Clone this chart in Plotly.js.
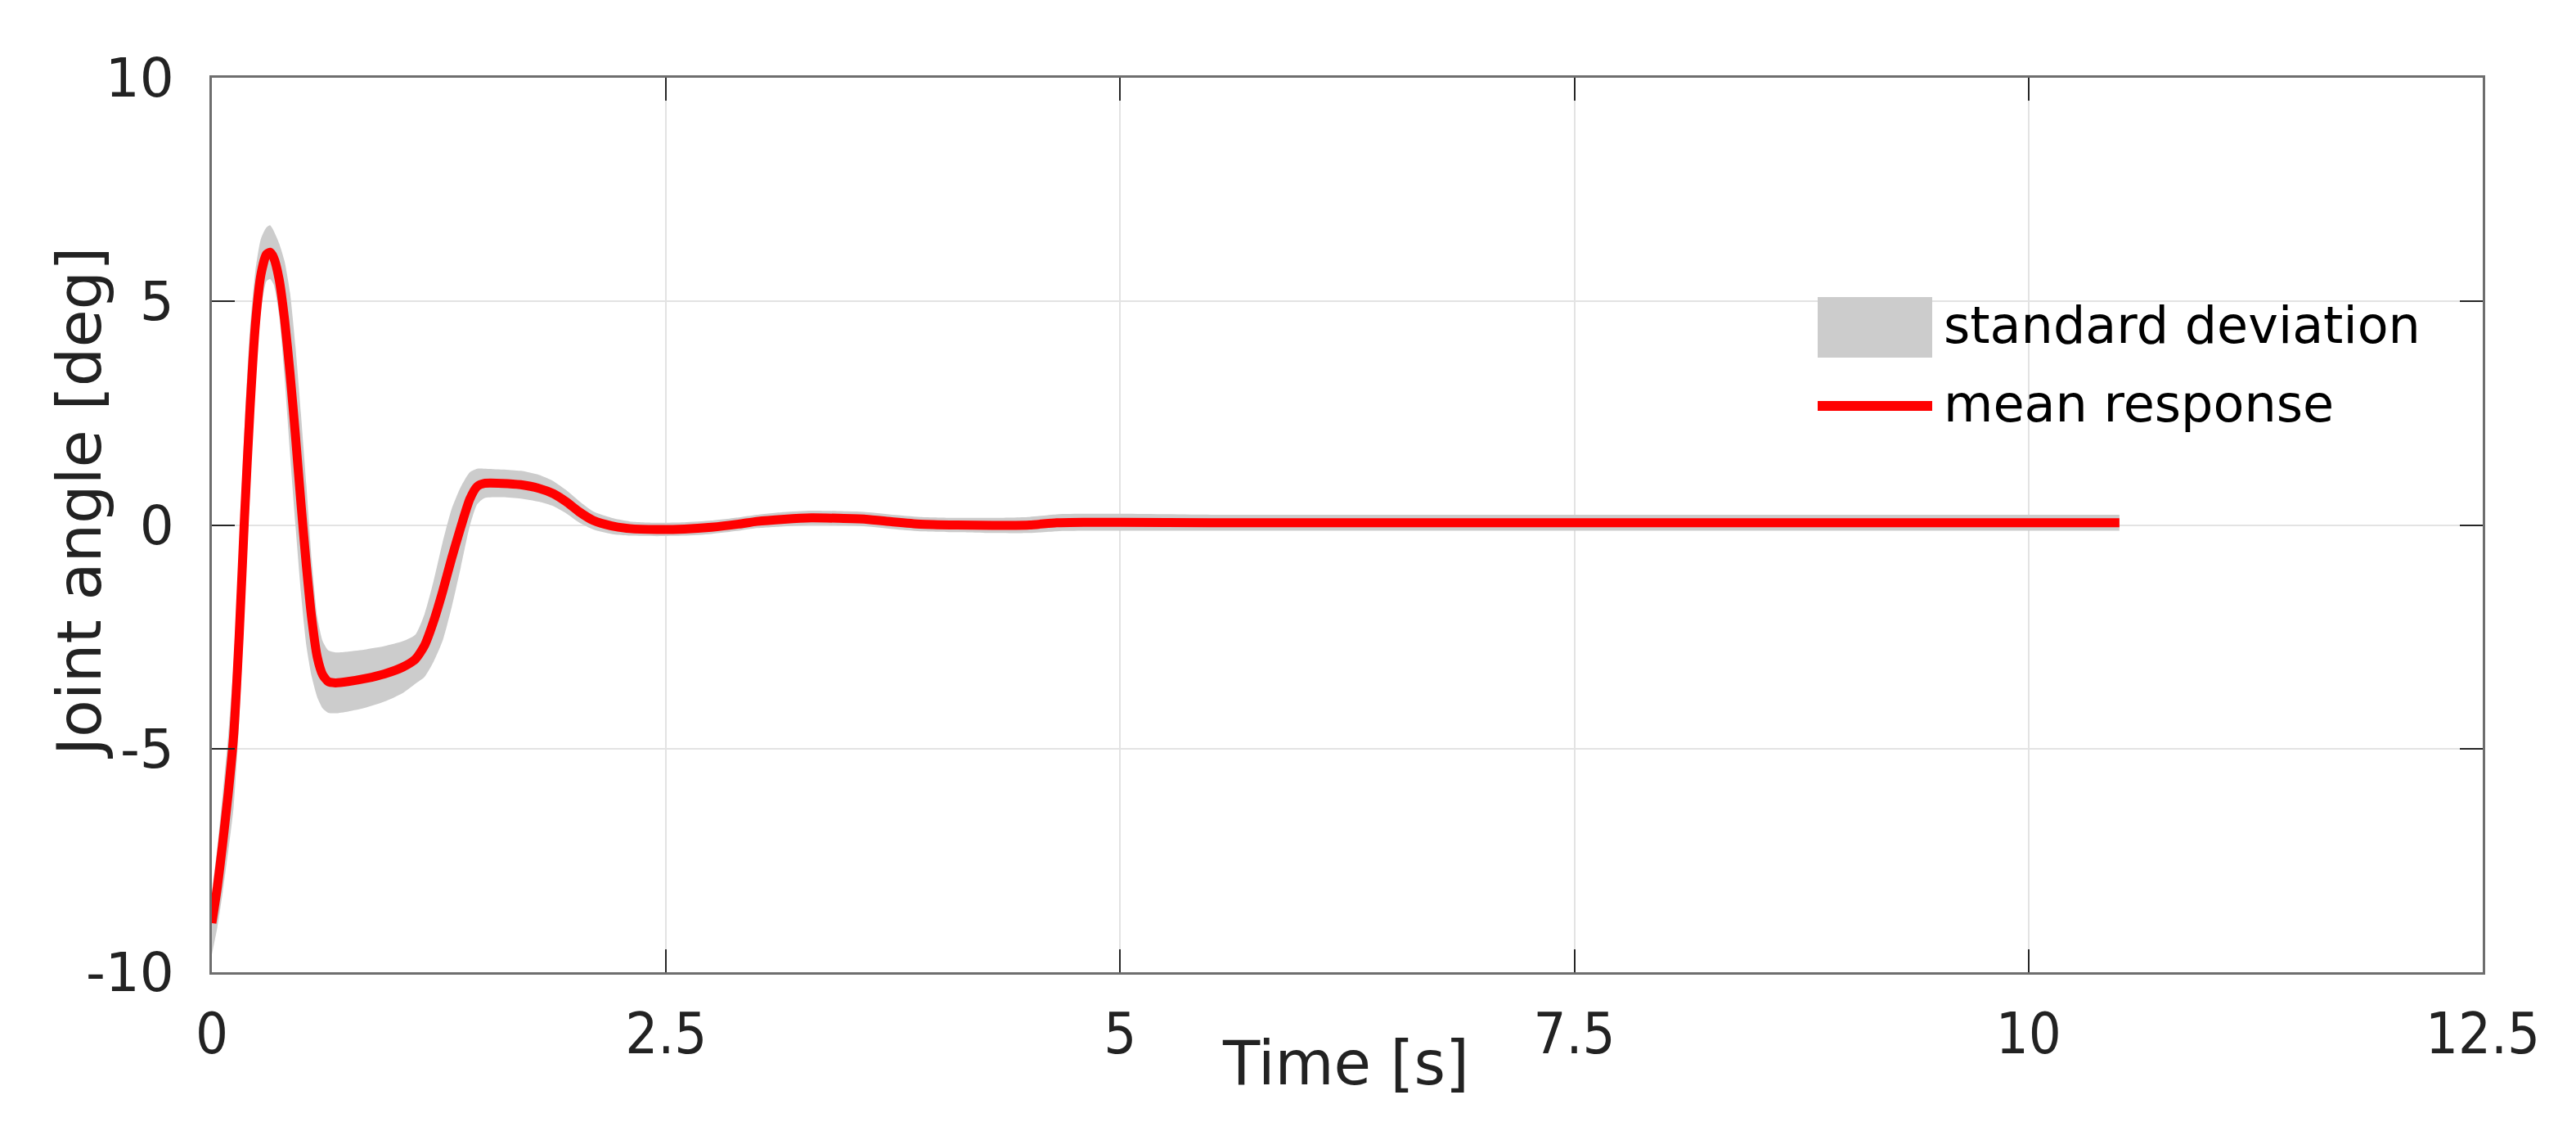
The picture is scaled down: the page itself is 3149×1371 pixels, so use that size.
<!DOCTYPE html>
<html>
<head>
<meta charset="utf-8">
<script src="https://cdn.plot.ly/plotly-3.0.1.min.js"></script>
<style>
  html, body { margin: 0; padding: 0; background: #ffffff; }
  #chart { width: 3149px; height: 1371px; }
</style>
</head>
<body>
<div id="chart"></div>
<script>
// ---- data ----
const timeS = [0.00, 0.03, 0.06, 0.09, 0.12, 0.15, 0.18, 0.21, 0.24, 0.27, 0.30, 0.32, 0.34, 0.37, 0.40,
  0.43, 0.46, 0.49, 0.52, 0.55, 0.58, 0.61, 0.64, 0.68, 0.75, 0.85, 0.95, 1.05, 1.12, 1.17,
  1.22, 1.27, 1.32, 1.37, 1.42, 1.46, 1.50, 1.60, 1.70, 1.80, 1.88, 1.95, 2.02, 2.10, 2.20,
  2.30, 2.45, 2.60, 2.75, 2.90, 3.00, 3.15, 3.30, 3.45, 3.60, 3.75, 3.90, 4.10, 4.30, 4.50,
  4.65, 4.80, 5.00, 5.50, 6.00, 7.00, 8.00, 9.00, 10.00, 10.50];

const meanAngle = [-8.9, -8.1, -7.1, -6.0, -4.7, -2.5, 0.2, 2.6, 4.5, 5.6, 6.05, 6.1, 5.98, 5.5, 4.6,
  3.4, 2.0, 0.5, -0.9, -2.1, -2.95, -3.35, -3.5, -3.53, -3.5, -3.43, -3.33, -3.18, -3.0, -2.7,
  -2.16, -1.49, -0.74, -0.05, 0.58, 0.86, 0.93, 0.93, 0.9, 0.82, 0.7, 0.52, 0.3, 0.1, -0.02,
  -0.08, -0.1, -0.09, -0.05, 0.02, 0.08, 0.13, 0.16, 0.15, 0.13, 0.07, 0.02, 0.0, -0.01, 0.0,
  0.05, 0.06, 0.06, 0.05, 0.05, 0.05, 0.05, 0.05, 0.05, 0.05];

const stdAngle = [0.7, 0.9, 1.1, 1.3, 1.6, 1.9, 2.0, 1.8, 1.2, 0.8, 0.6, 0.6, 0.6, 0.8, 1.3,
  1.8, 2.0, 2.0, 1.8, 1.3, 0.9, 0.75, 0.7, 0.68, 0.67, 0.65, 0.62, 0.58, 0.55, 0.7,
  0.9, 1.1, 1.1, 0.9, 0.6, 0.4, 0.33, 0.31, 0.31, 0.3, 0.28, 0.26, 0.24, 0.2, 0.18,
  0.16, 0.15, 0.15, 0.15, 0.15, 0.15, 0.16, 0.16, 0.16, 0.16, 0.16, 0.16, 0.16, 0.17, 0.18,
  0.19, 0.19, 0.19, 0.18, 0.18, 0.18, 0.18, 0.18, 0.18, 0.18];

const xTickVals = [0, 2.5, 5, 7.5, 10, 12.5];
const xTickText = ['0', '2.5', '5', '7.5', '10', '12.5'];
const yTickVals = [-10, -5, 0, 5, 10];
const yTickText = ['-10', '-5', '0', '5', '10'];

const seriesNames = ['standard deviation', 'mean response'];
const xTitle = 'Time [s]';
const yTitle = 'Joint angle [deg]';

// ---- derived ----
const upper = meanAngle.map((m, i) => m + stdAngle[i]);
const lower = meanAngle.map((m, i) => m - stdAngle[i]);

const FONT = 'DejaVu Sans, Open Sans, sans-serif';
const FONT_COND = 'DejaVu Sans Condensed, Liberation Sans Narrow, DejaVu Sans, sans-serif';
const TXT = '#222222';

const traces = [
  { x: timeS, y: lower, type: 'scatter', mode: 'lines',
    line: { width: 0, color: '#CCCCCC', shape: 'spline', smoothing: 0.6 },
    showlegend: false, hoverinfo: 'skip' },
  { x: timeS, y: upper, type: 'scatter', mode: 'lines', fill: 'tonexty',
    fillcolor: '#CCCCCC', line: { width: 0, color: '#CCCCCC', shape: 'spline', smoothing: 0.6 },
    name: seriesNames[0], showlegend: false },
  { x: timeS, y: meanAngle, type: 'scatter', mode: 'lines',
    line: { width: 11, color: '#FF0000', shape: 'spline', smoothing: 0.6 },
    name: seriesNames[1], showlegend: false }
];

// plot area in px
const PL = 259, PR = 3035, PT = 95, PB = 1188;
const px2x = p => (p - PL) / (PR - PL);
const px2y = p => (PB - p) / (PB - PT);

const layout = {
  width: 3149, height: 1371,
  margin: { l: PL, r: 3149 - PR, t: PT, b: 1371 - PB, pad: 0 },
  paper_bgcolor: '#ffffff', plot_bgcolor: '#ffffff',
  showlegend: false,
  font: { family: FONT, color: TXT, size: 68 },
  xaxis: {
    range: [0, 12.5], tickmode: 'array', tickvals: xTickVals, ticktext: xTickText,
    showgrid: true, gridcolor: '#E3E3E3', gridwidth: 2, zeroline: false,
    showline: true, linecolor: '#6E6E6E', linewidth: 3, mirror: 'ticks',
    ticks: 'inside', ticklen: 28, tickwidth: 2, tickcolor: '#262626',
    tickfont: { family: FONT_COND, size: 70, color: TXT },
    ticklabelstandoff: 12, fixedrange: true
  },
  yaxis: {
    range: [-10, 10], tickmode: 'array', tickvals: yTickVals, ticktext: yTickText,
    showgrid: true, gridcolor: '#E3E3E3', gridwidth: 2, zeroline: false,
    showline: true, linecolor: '#6E6E6E', linewidth: 3, mirror: 'ticks',
    ticks: 'inside', ticklen: 28, tickwidth: 2, tickcolor: '#262626',
    tickfont: { family: FONT, size: 66, color: TXT },
    ticklabelstandoff: 30, fixedrange: true
  },
  shapes: [
    { type: 'rect', xref: 'paper', yref: 'paper',
      x0: px2x(2222), x1: px2x(2362), y0: px2y(437), y1: px2y(363),
      fillcolor: '#CCCCCC', line: { width: 0 } },
    { type: 'line', xref: 'paper', yref: 'paper',
      x0: px2x(2222), x1: px2x(2362), y0: px2y(496), y1: px2y(496),
      line: { color: '#FF0000', width: 12 } }
  ],
  annotations: [
    { text: seriesNames[0], xref: 'paper', yref: 'paper', x: px2x(2374), y: px2y(397),
      xanchor: 'left', yanchor: 'middle', showarrow: false,
      font: { family: FONT, size: 62, color: '#000000' } },
    { text: seriesNames[1], xref: 'paper', yref: 'paper', x: px2x(2374), y: px2y(493),
      xanchor: 'left', yanchor: 'middle', showarrow: false,
      font: { family: FONT, size: 62, color: '#000000' } },
    { text: xTitle, xref: 'paper', yref: 'paper', x: px2x(1645), y: px2y(1299),
      xanchor: 'center', yanchor: 'middle', showarrow: false,
      font: { family: FONT, size: 74, color: TXT } },
    { text: yTitle, xref: 'paper', yref: 'paper', x: px2x(97), y: px2y(615),
      xanchor: 'center', yanchor: 'middle', showarrow: false, textangle: -90,
      font: { family: FONT, size: 75, color: TXT } }
  ]
};

Plotly.newPlot('chart', traces, layout, { staticPlot: true, displayModeBar: false });
</script>
</body>
</html>
